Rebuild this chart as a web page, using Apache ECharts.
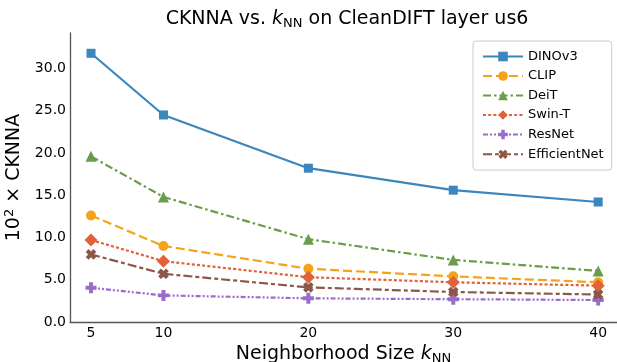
<!DOCTYPE html>
<html>
<head>
<meta charset="utf-8">
<script src="https://cdn.jsdelivr.net/npm/echarts@6/dist/echarts.min.js"></script>
<style>
  html, body { margin: 0; padding: 0; background: #fff; }
  #chart { width: 617px; height: 362px; }
</style>
</head>
<body>
<div id="chart"></div>
<script>
// neighbourhood sizes k
var kValues = [5, 10, 20, 30, 40];
var yTicks = [0, 5, 10, 15, 20, 25, 30];

// 10^2 x CKNNA per model
var dinov3 = [31.8, 24.5, 18.2, 15.6, 14.2];
var clip = [12.6, 9.0, 6.3, 5.4, 4.7];
var deit = [19.6, 14.8, 9.8, 7.35, 6.05];
var swint = [9.7, 7.2, 5.3, 4.7, 4.3];
var resnet = [4.05, 3.15, 2.8, 2.7, 2.6];
var efficientnet = [8.0, 5.7, 4.1, 3.55, 3.25];

var chart = echarts.init(document.getElementById('chart'));

var plusPath = 'path://M3.2,0h3.6v3.2h3.2v3.6h-3.2v3.2h-3.6v-3.2h-3.2v-3.6h3.2z';

function pairs(vals) {
    var out = [];
    for (var i = 0; i < kValues.length; i++) out.push([kValues[i], vals[i]]);
    return out;
}

function makeSeries(name, vals, color, dash, symbol, size, rotate) {
    return {
        name: name,
        type: 'line',
        data: pairs(vals),
        symbol: symbol,
        symbolSize: size,
        symbolRotate: rotate || 0,
        showAllSymbol: true,
        lineStyle: { color: color, width: 2.2, type: dash },
        itemStyle: { color: color },
        emphasis: { disabled: true },
        z: 3
    };
}

var font = 'DejaVu Sans';

var option = {
    animation: false,
    title: {
        text: 'CKNNA vs. {k|k}{sub|NN} on CleanDIFT layer us6',
        left: 342,
        top: 3,
        textAlign: 'center',
        textStyle: {
            fontFamily: font, fontSize: 19, fontWeight: 'normal', color: '#000',
            rich: {
                k: { fontFamily: font, fontSize: 19, fontStyle: 'italic', color: '#000' },
                sub: { fontFamily: font, fontSize: 13, color: '#000', padding: [9, 0, 0, 0] }
            }
        }
    },
    legend: {
        orient: 'vertical',
        left: 473,
        top: 41,
        padding: [9, 8, 9, 9],
        itemWidth: 40,
        itemHeight: 12,
        itemGap: 6.5,
        backgroundColor: 'rgba(255,255,255,0.85)',
        borderColor: '#cccccc',
        borderWidth: 1,
        borderRadius: 3,
        textStyle: { fontFamily: font, fontSize: 13, color: '#000' },
        data: ['DINOv3', 'CLIP', 'DeiT', 'Swin-T', 'ResNet', 'EfficientNet']
    },
    grid: { left: 70, right: 0, top: 33, bottom: 40, outerBoundsMode: 'none', containLabel: false },
    xAxis: {
        type: 'value',
        min: 3.55,
        max: 41.3,
        name: 'Neighborhood Size {k|k}{sub|NN}',
        nameLocation: 'middle',
        nameGap: 26,
        nameTextStyle: {
            fontFamily: font, fontSize: 19, color: '#000', verticalAlign: 'middle',
            rich: {
                k: { fontFamily: font, fontSize: 19, fontStyle: 'italic', color: '#000' },
                sub: { fontFamily: font, fontSize: 13, color: '#000', padding: [9, 0, 0, 0] }
            }
        },
        splitLine: { show: false },
        axisLine: { lineStyle: { color: '#555', width: 1.3 } },
        axisTick: { show: false },
        axisLabel: {
            customValues: kValues, fontFamily: font, fontSize: 14, color: '#000', margin: 4
        }
    },
    yAxis: {
        type: 'value',
        min: 0,
        max: 34.2,
        name: '10{sup|2} × CKNNA',
        nameLocation: 'middle',
        nameGap: 34,
        nameRotate: 90,
        nameTextStyle: {
            fontFamily: font, fontSize: 19, color: '#000',
            rich: {
                sup: { fontFamily: font, fontSize: 13, color: '#000', padding: [0, 0, 9, 0] }
            }
        },
        splitLine: { show: false },
        axisLine: { show: true, lineStyle: { color: '#555', width: 1.3 } },
        axisTick: { show: false },
        axisLabel: {
            customValues: yTicks, fontFamily: font, fontSize: 14, color: '#000', margin: 4,
            formatter: function (v) { return v.toFixed(1); }
        }
    },
    series: [
        makeSeries('DINOv3', dinov3, '#3a86bd', 'solid', 'rect', 9),
        makeSeries('CLIP', clip, '#f5a31a', [9, 4], 'circle', 10),
        makeSeries('DeiT', deit, '#6a9d4b', [8, 3, 2.5, 3], 'triangle', 11),
        makeSeries('Swin-T', swint, '#e0613a', [3, 2.2], 'diamond', 13),
        makeSeries('ResNet', resnet, '#9a6ccb', [5, 2, 2, 2, 2, 2], plusPath, 11),
        makeSeries('EfficientNet', efficientnet, '#8c5748', [9, 3, 4, 3], plusPath, 11, 45)
    ]
};

chart.setOption(option);
</script>
</body>
</html>
